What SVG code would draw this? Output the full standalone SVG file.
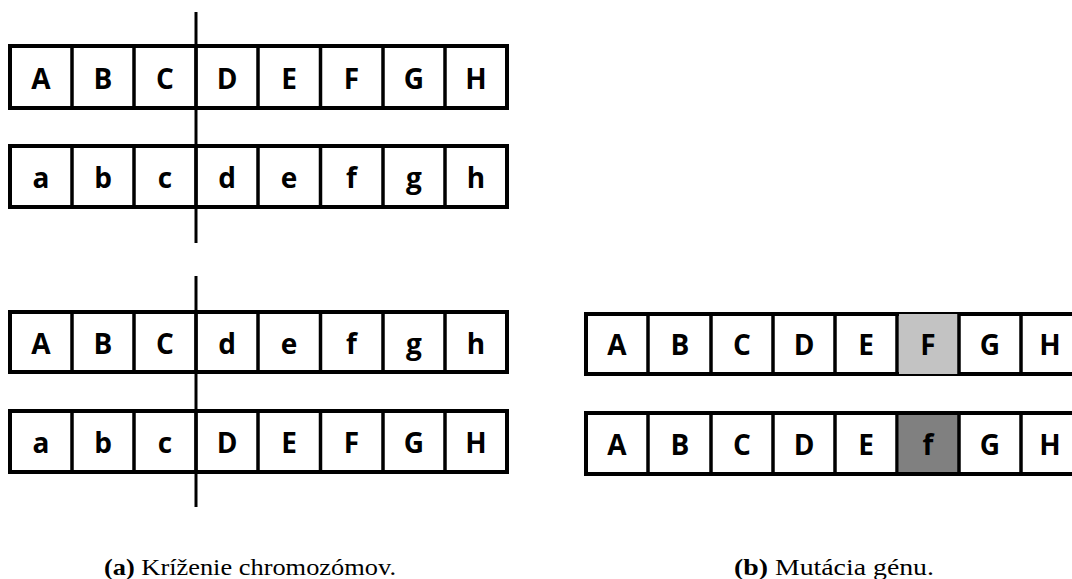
<svg xmlns="http://www.w3.org/2000/svg" width="1072" height="579" viewBox="0 0 1072 579">
<style>
.box{fill:#fff;stroke:#000;stroke-width:4}
.div{stroke:#000;stroke-width:3.5}
.cut{stroke:#000;stroke-width:3}
.l{font-family:"Open Sans",Lato,"Liberation Sans",sans-serif;font-weight:bold;font-size:28px;text-anchor:middle;fill:#000}
.cap{font-family:"Liberation Serif","DejaVu Serif",serif;font-size:23px;fill:#000}
</style>
<rect width="1072" height="579" fill="#fff"/>
<g id="row1">
<rect class="box" x="10" y="46" width="497" height="62"/>
<g class="div"><line x1="72" y1="46" x2="72" y2="108"/><line x1="134" y1="46" x2="134" y2="108"/><line x1="196" y1="46" x2="196" y2="108"/><line x1="258" y1="46" x2="258" y2="108"/><line x1="320.5" y1="46" x2="320.5" y2="108"/><line x1="383" y1="46" x2="383" y2="108"/><line x1="445" y1="46" x2="445" y2="108"/></g>
<text class="l" y="89"><tspan x="41">A</tspan><tspan x="103">B</tspan><tspan x="165">C</tspan><tspan x="227">D</tspan><tspan x="289">E</tspan><tspan x="351.5">F</tspan><tspan x="414">G</tspan><tspan x="476">H</tspan></text>
</g>
<g id="row2">
<rect class="box" x="10" y="146" width="497" height="61"/>
<g class="div"><line x1="72" y1="146" x2="72" y2="207"/><line x1="134" y1="146" x2="134" y2="207"/><line x1="196" y1="146" x2="196" y2="207"/><line x1="258" y1="146" x2="258" y2="207"/><line x1="320.5" y1="146" x2="320.5" y2="207"/><line x1="383" y1="146" x2="383" y2="207"/><line x1="445" y1="146" x2="445" y2="207"/></g>
<text class="l" y="188"><tspan x="41">a</tspan><tspan x="103">b</tspan><tspan x="165">c</tspan><tspan x="227">d</tspan><tspan x="289">e</tspan><tspan x="351.5">f</tspan><tspan x="414">g</tspan><tspan x="476">h</tspan></text>
</g>
<g id="row3">
<rect class="box" x="10" y="312" width="497" height="60"/>
<g class="div"><line x1="72" y1="312" x2="72" y2="372"/><line x1="134" y1="312" x2="134" y2="372"/><line x1="196" y1="312" x2="196" y2="372"/><line x1="258" y1="312" x2="258" y2="372"/><line x1="320.5" y1="312" x2="320.5" y2="372"/><line x1="383" y1="312" x2="383" y2="372"/><line x1="445" y1="312" x2="445" y2="372"/></g>
<text class="l" y="354"><tspan x="41">A</tspan><tspan x="103">B</tspan><tspan x="165">C</tspan><tspan x="227">d</tspan><tspan x="289">e</tspan><tspan x="351.5">f</tspan><tspan x="414">g</tspan><tspan x="476">h</tspan></text>
</g>
<g id="row4">
<rect class="box" x="10" y="411" width="497" height="61"/>
<g class="div"><line x1="72" y1="411" x2="72" y2="472"/><line x1="134" y1="411" x2="134" y2="472"/><line x1="196" y1="411" x2="196" y2="472"/><line x1="258" y1="411" x2="258" y2="472"/><line x1="320.5" y1="411" x2="320.5" y2="472"/><line x1="383" y1="411" x2="383" y2="472"/><line x1="445" y1="411" x2="445" y2="472"/></g>
<text class="l" y="453"><tspan x="41">a</tspan><tspan x="103">b</tspan><tspan x="165">c</tspan><tspan x="227">D</tspan><tspan x="289">E</tspan><tspan x="351.5">F</tspan><tspan x="414">G</tspan><tspan x="476">H</tspan></text>
</g>
<g id="cuts">
<line class="cut" x1="196" y1="12" x2="196" y2="243"/>
<line class="cut" x1="196" y1="276" x2="196" y2="507"/>
</g>
<g id="mut1">
<rect class="box" x="586" y="314" width="500" height="60"/>
<rect x="899" y="314" width="60" height="60" fill="#c3c3c3"/>
<g class="div"><line x1="648" y1="314" x2="648" y2="374"/><line x1="711" y1="314" x2="711" y2="374"/><line x1="773" y1="314" x2="773" y2="374"/><line x1="835" y1="314" x2="835" y2="374"/><line x1="897" y1="314" x2="897" y2="374"/><line x1="959" y1="314" x2="959" y2="374"/><line x1="1021" y1="314" x2="1021" y2="374"/></g>
<text class="l" y="355"><tspan x="617">A</tspan><tspan x="680">B</tspan><tspan x="742">C</tspan><tspan x="804">D</tspan><tspan x="866">E</tspan><tspan x="928">F</tspan><tspan x="990">G</tspan><tspan x="1050">H</tspan></text>
</g>
<g id="mut2">
<rect class="box" x="586" y="413" width="500" height="61"/>
<rect x="899" y="415" width="60" height="57" fill="#808080"/>
<g class="div"><line x1="648" y1="413" x2="648" y2="474"/><line x1="711" y1="413" x2="711" y2="474"/><line x1="773" y1="413" x2="773" y2="474"/><line x1="835" y1="413" x2="835" y2="474"/><line x1="897" y1="413" x2="897" y2="474"/><line x1="959" y1="413" x2="959" y2="474"/><line x1="1021" y1="413" x2="1021" y2="474"/></g>
<text class="l" y="455"><tspan x="617">A</tspan><tspan x="680">B</tspan><tspan x="742">C</tspan><tspan x="804">D</tspan><tspan x="866">E</tspan><tspan x="928">f</tspan><tspan x="990">G</tspan><tspan x="1050">H</tspan></text>
</g>
<g id="captions">
<text class="cap" x="104" y="575" textLength="292" lengthAdjust="spacingAndGlyphs"><tspan font-weight="bold">(a)</tspan> Kríženie chromozómov.</text>
<text class="cap" x="734" y="575" textLength="200" lengthAdjust="spacingAndGlyphs"><tspan font-weight="bold">(b)</tspan> Mutácia génu.</text>
</g>
</svg>
